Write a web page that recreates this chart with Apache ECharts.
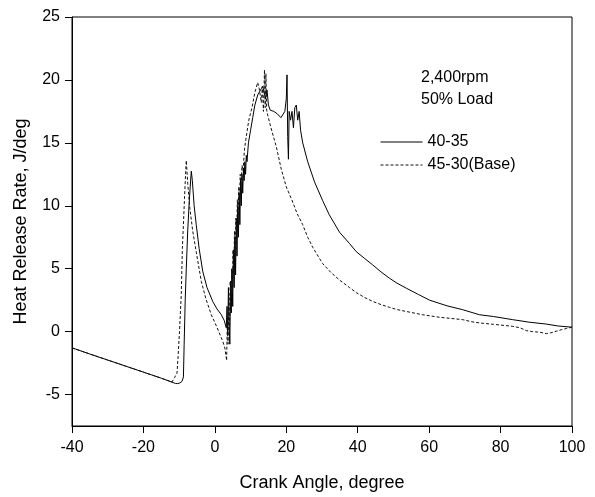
<!DOCTYPE html>
<html>
<head>
<meta charset="utf-8">
<script src="https://cdn.jsdelivr.net/npm/echarts@6/dist/echarts.min.js"></script>
<style>html,body{margin:0;padding:0;background:#fff}#c{width:595px;height:497px}</style>
</head>
<body>
<div id="c"></div>
<script>
// Series names
const seriesNames = ['40-35', '45-30(Base)'];
// Axis ticks
const xTicks = [-40, -20, 0, 20, 40, 60, 80, 100];
const yTicks = [-5, 0, 5, 10, 15, 20, 25];
// 40-35 (solid)
const solidX = [-40,-35,-30,-25,-20,-15,-12,-11,-10.4,-9.8,-9.2,-8.8,-8.6,-8.3,-8.0,-7.6,-7.2,-6.9,-6.6,-6.3,-5.8,-5.2,-4.4,-3.4,-2.2,-0.6,0.6,1.8,2.6,3.2,
  3.4,3.6,3.8,4.0,4.2,4.4,4.6,4.8,5.0,5.2,5.4,5.6,5.8,6.0,6.2,6.4,6.6,6.8,7.0,7.2,7.4,7.6,7.8,8.0,8.2,8.4,8.6,8.8,9.0,9.4,10.0,10.6,11.2,12.0,13.0,13.4,13.8,14.2,14.6,15.0,15.5,16.5,17.5,18.5,19.0,19.6,20.0,20.2,20.4,20.6,20.8,21.2,21.6,22.0,22.4,22.8,23.2,23.6,24.0,24.6,
  26,27.9,30.2,32,34.9,37.7,39.6,42,44.2,46.5,48.9,51,53.6,57,60.1,65,69.4,74.1,78,83.4,88,92.8,96,100];
const solidY = [-1.29,-1.78,-2.26,-2.74,-3.22,-3.70,-4.02,-4.12,-4.13,-4.08,-3.95,-3.6,-1.0,2.5,5.0,8.0,10.2,11.5,12.75,12.0,10.0,8.45,6.6,4.8,3.5,2.4,1.8,1.35,0.9,0.3,
  2.0,-0.3,3.5,0.5,-1.0,4.0,1.5,5.0,2.0,6.5,3.5,7.5,4.5,9.0,6.0,10.0,7.5,11.0,8.5,12.0,10.0,12.5,11.0,13.0,12.0,13.5,12.5,14.0,13.5,15.0,16.0,17.0,18.0,18.8,19.3,19.5,19.0,18.5,19.2,18.0,17.6,17.5,17.3,17.0,17.0,17.5,18.5,20.4,15.5,13.7,17.5,16.8,17.5,16.2,17.8,18.0,16.8,17.5,16.0,15.0,
  13.5,11.9,10.4,9.3,7.9,7.0,6.35,5.8,5.3,4.75,4.24,3.85,3.45,2.95,2.5,2.05,1.74,1.34,1.2,0.95,0.75,0.6,0.45,0.35];
// 45-30(Base) (dashed)
const dashX = [-40,-35,-30,-25,-20,-15,-12,-11.8,-11.3,-11.0,-10.6,-10.3,-9.9,-9.4,-9.1,-8.8,-8.5,-8.2,-8.0,-7.6,-7.0,-6.2,-5.2,-3.8,-2.5,-1.0,0.5,2.2,2.8,3.3,
  3.5,3.7,3.9,4.1,4.3,4.5,4.7,4.9,5.1,5.3,5.5,5.7,5.9,6.1,6.3,6.5,6.7,6.9,7.1,7.3,7.6,7.9,8.3,8.8,9.5,10.4,11.2,12.0,12.5,13.0,13.3,13.6,13.9,14.1,14.3,14.5,14.8,
  15.8,17.2,18.6,20,21.8,23,24.6,26,27.4,30.2,32.5,34.9,37.7,39.6,42,44.2,46.5,48.9,51,53.6,58.2,62.9,66,69.4,72,74.1,78,83.4,85.5,87.2,89,91,92.8,94,95.6,97,98.5,100];
const dashY = [-1.29,-1.78,-2.26,-2.74,-3.22,-3.70,-4.0,-4.0,-3.66,-3.5,-3.3,-2.0,0,3.0,6.6,8.5,10.6,12.5,13.6,11.8,9.8,8.0,6.3,4.0,2.6,1.34,0.4,-0.76,-1.3,-2.3,
  1.0,-1.0,3.0,0.0,4.0,1.5,5.0,3.0,6.5,4.5,8.0,6.0,9.0,7.5,10.5,9.0,11.5,10.5,12.5,11.5,13.2,12.8,14.5,15.5,16.8,17.8,19.0,19.8,19.2,18.2,19.5,17.5,20.8,17.8,20.5,17.6,17.2,
  16.1,14.7,12.9,11.5,10.3,9.4,8.5,7.5,6.7,5.4,4.7,4.1,3.5,3.1,2.7,2.4,2.15,1.93,1.75,1.6,1.34,1.14,1.05,0.95,0.78,0.69,0.58,0.42,0.3,0.08,0.0,-0.05,-0.16,-0.1,0.03,0.15,0.25,0.35];
const annotLines = ['2,400rpm', '50% Load'];

const pair = (xs, ys) => xs.map((x, i) => [x, ys[i]]);
const FONT = '"Liberation Sans", Arial, sans-serif';
const chart = echarts.init(document.getElementById('c'), null, {renderer: 'canvas'});
chart.setOption({
  animation: false,
  backgroundColor: '#fff',
  textStyle: {fontFamily: FONT, color: '#000'},
  title: {
    text: annotLines.join('\n'),
    left: 421, top: 67, padding: 0,
    textStyle: {fontFamily: FONT, fontSize: 16, fontWeight: 'normal', color: '#000', lineHeight: 22}
  },
  legend: {
    orient: 'vertical', left: 380, top: 134, padding: 0,
    itemWidth: 42, itemHeight: 16, itemGap: 7,
    data: seriesNames,
    itemStyle: {opacity: 0, borderWidth: 0},
    lineStyle: {width: 1},
    textStyle: {fontFamily: FONT, fontSize: 16, color: '#000', lineHeight: 16}
  },
  grid: {left: 72, right: 23, top: 17, bottom: 68, show: true, borderColor: '#000', borderWidth: 1, backgroundColor: 'transparent'},
  xAxis: {
    type: 'value', min: -40, max: 100, interval: 20,
    name: 'Crank Angle, degree', nameLocation: 'middle', nameGap: 48,
    nameTextStyle: {fontFamily: FONT, fontSize: 18, color: '#000'},
    axisLine: {onZero: false, lineStyle: {color: '#000', width: 1}},
    axisTick: {length: 7, lineStyle: {color: '#000'}, customValues: xTicks},
    axisLabel: {fontFamily: FONT, fontSize: 16, color: '#000', margin: 14, customValues: xTicks},
    splitLine: {show: false}
  },
  yAxis: {
    type: 'value', min: -7.5, max: 25,
    name: 'Heat Release Rate, J/deg', nameLocation: 'middle', nameGap: 42,
    nameTextStyle: {fontFamily: FONT, fontSize: 18, color: '#000'},
    axisLine: {show: true, onZero: false, lineStyle: {color: '#000', width: 1}},
    axisTick: {show: true, length: 7, lineStyle: {color: '#000'}, customValues: yTicks},
    axisLabel: {fontFamily: FONT, fontSize: 16, color: '#000', margin: 12, customValues: yTicks},
    splitLine: {show: false}
  },
  series: [
    {name: seriesNames[0], type: 'line', data: pair(solidX, solidY), symbol: 'none',
     lineStyle: {color: '#000', width: 1}, itemStyle: {color: '#000'}},
    {name: seriesNames[1], type: 'line', data: pair(dashX, dashY), symbol: 'none',
     lineStyle: {color: '#111', width: 1, type: [3, 2]}, itemStyle: {color: '#111'}}
  ]
});
</script>
</body>
</html>
